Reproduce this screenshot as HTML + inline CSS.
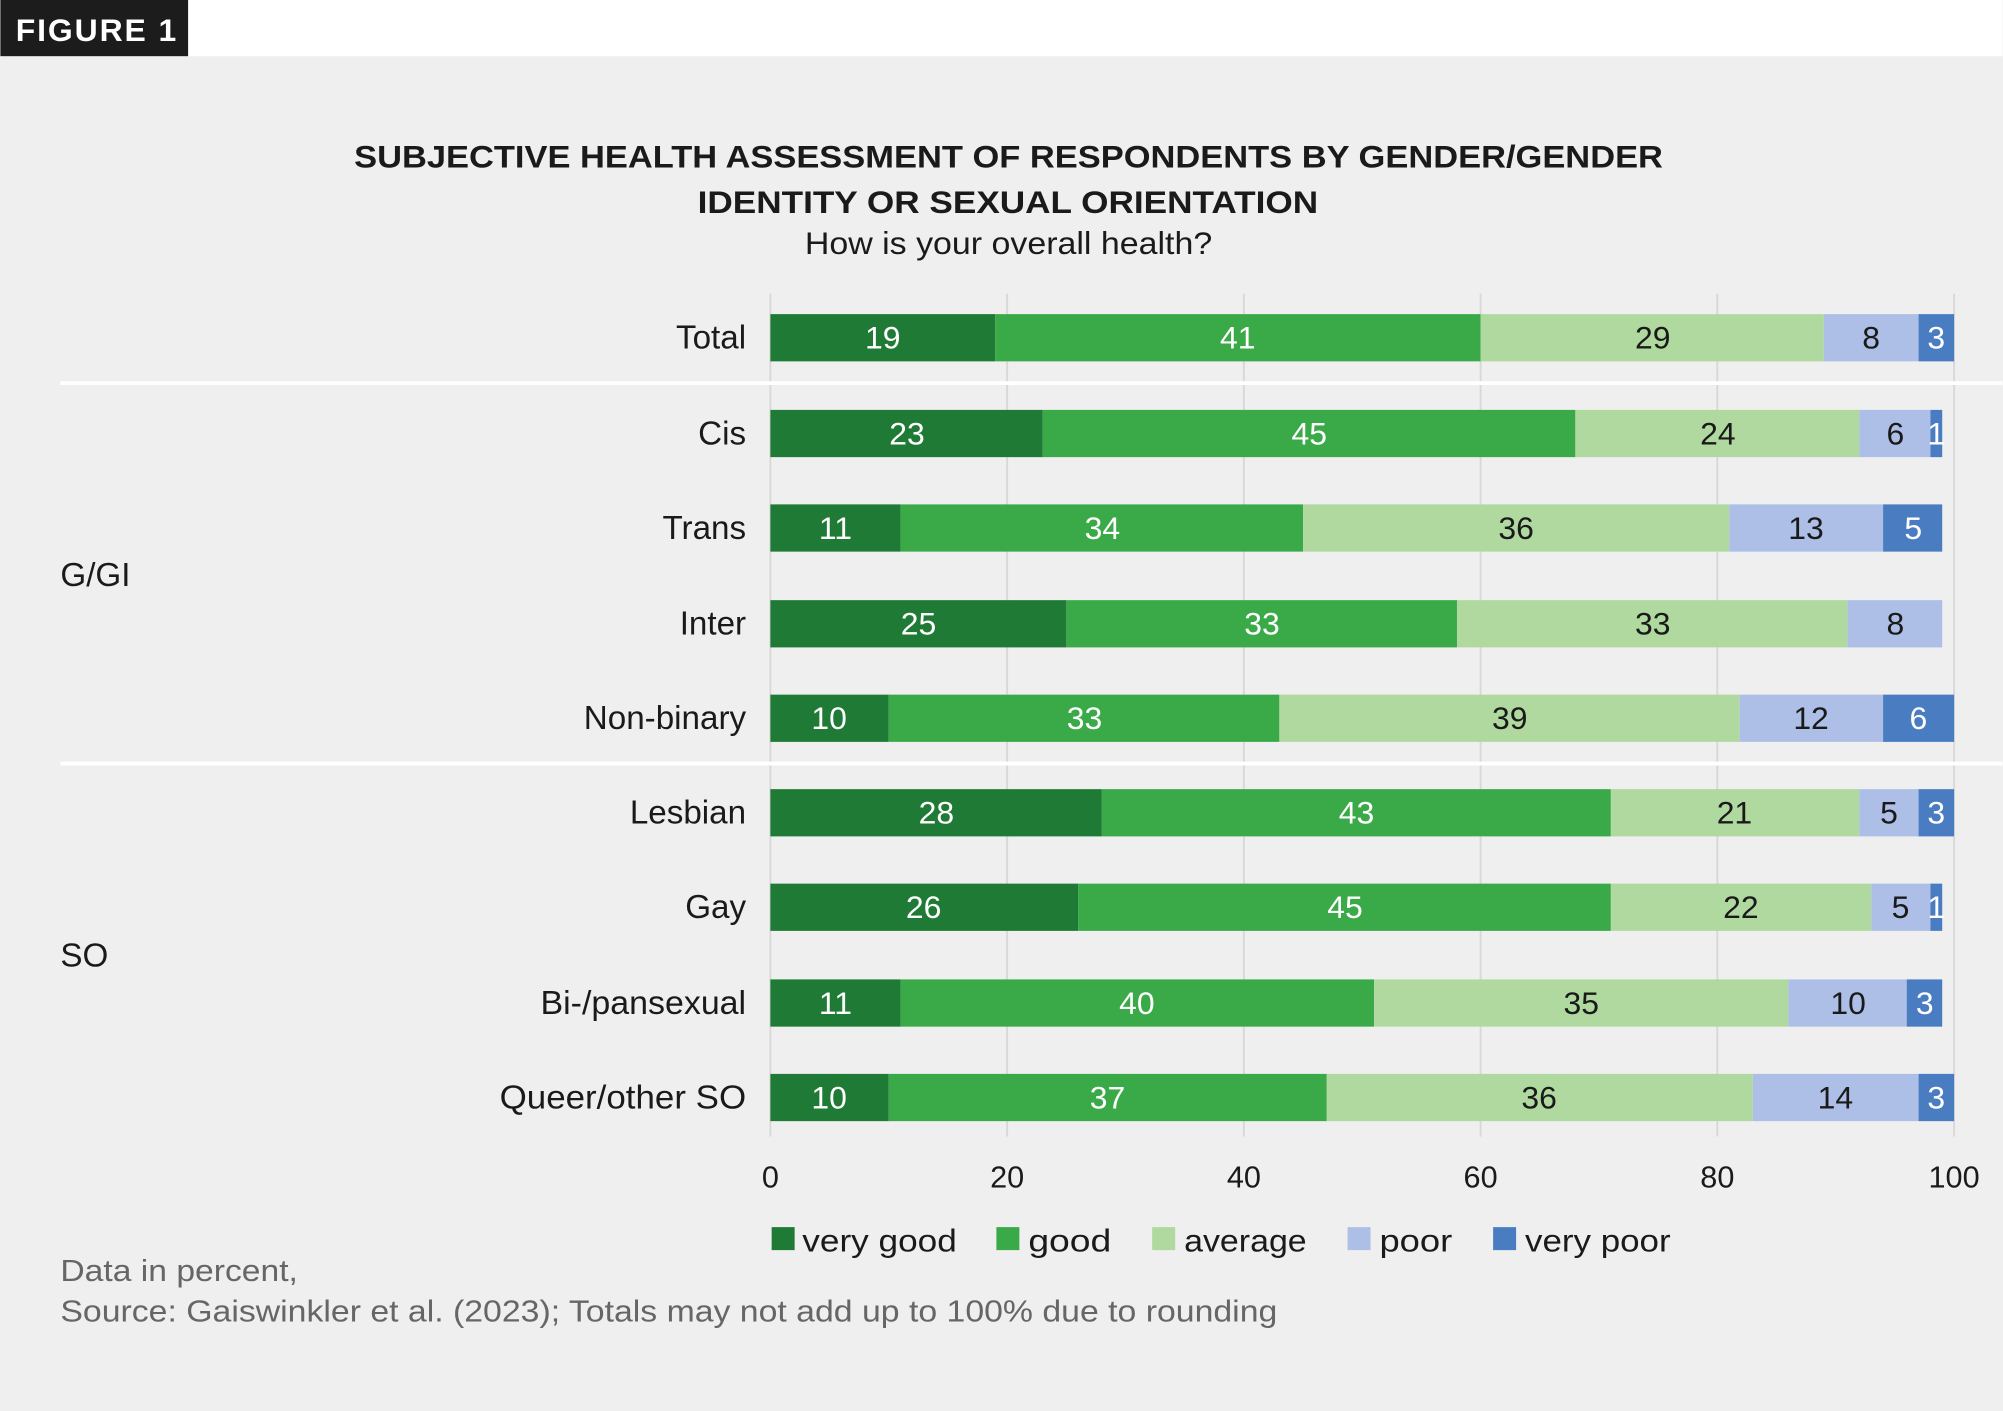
<!DOCTYPE html>
<html><head><meta charset="utf-8"><style>
html,body{margin:0;padding:0;background:#efefef;}
svg{display:block;}
text{font-family:"Liberation Sans","DejaVu Sans",sans-serif;}
.v{font-size:25px;text-anchor:middle;}
.w{fill:#fff;}.d{fill:#1a1a1a;}
.c{font-size:26px;text-anchor:end;fill:#1a1a1a;}
.t{font-size:24px;text-anchor:middle;fill:#1a1a1a;}
.vg{fill:#1f7a35}.g{fill:#3aaa48}.a{fill:#b0d9a0}.p{fill:#adbfe6}.vp{fill:#4a7cc2}
</style></head><body>
<svg width="2003" height="1411" viewBox="0 0 1568 1105" xmlns="http://www.w3.org/2000/svg">
<rect width="1568" height="1105" fill="#efefef"/>
<rect width="1568" height="44" fill="#fff"/>
<rect width="147" height="44" fill="#1c1c1c"/>
<text x="12" y="32" font-size="25" font-weight="bold" fill="#fff" letter-spacing="1.5">FIGURE 1</text>
<text x="277" y="131" font-size="25" font-weight="bold" fill="#1a1a1a" textLength="1025" lengthAdjust="spacingAndGlyphs">SUBJECTIVE HEALTH ASSESSMENT OF RESPONDENTS BY GENDER/GENDER</text>
<text x="546" y="167" font-size="25" font-weight="bold" fill="#1a1a1a" textLength="486" lengthAdjust="spacingAndGlyphs">IDENTITY OR SEXUAL ORIENTATION</text>
<text x="630" y="199" font-size="25" fill="#1a1a1a" textLength="319" lengthAdjust="spacingAndGlyphs">How is your overall health?</text>
<g stroke="#d8d8d8" stroke-width="1.5">
<line x1="603" y1="230" x2="603" y2="890"/><line x1="788.4" y1="230" x2="788.4" y2="890"/><line x1="973.8" y1="230" x2="973.8" y2="890"/><line x1="1159.2" y1="230" x2="1159.2" y2="890"/><line x1="1344.6" y1="230" x2="1344.6" y2="890"/><line x1="1530" y1="230" x2="1530" y2="890"/>
</g>
<g stroke="#fff" stroke-width="3"><line x1="47" y1="300" x2="1568" y2="300"/><line x1="47" y1="598" x2="1568" y2="598"/></g>
<rect class="vg" x="603" y="246" width="176.1" height="37"/><rect class="g" x="779.1" y="246" width="380.1" height="37"/><rect class="a" x="1159.2" y="246" width="268.8" height="37"/><rect class="p" x="1428" y="246" width="74.2" height="37"/><rect class="vp" x="1502.2" y="246" width="27.8" height="37"/>
<text class="v w" x="691" y="273">19</text><text class="v w" x="969" y="273">41</text><text class="v d" x="1294" y="273">29</text><text class="v d" x="1465" y="273">8</text><text class="v w" x="1516" y="273">3</text>
<rect class="vg" x="603" y="321" width="213.2" height="37"/><rect class="g" x="816.2" y="321" width="417.2" height="37"/><rect class="a" x="1233.4" y="321" width="222.4" height="37"/><rect class="p" x="1455.8" y="321" width="55.7" height="37"/><rect class="vp" x="1511.5" y="321" width="9.2" height="37"/>
<text class="v w" x="710" y="348">23</text><text class="v w" x="1025" y="348">45</text><text class="v d" x="1345" y="348">24</text><text class="v d" x="1484" y="348">6</text><text class="v w" x="1516" y="348">1</text>
<rect class="vg" x="603" y="395" width="102" height="37"/><rect class="g" x="705" y="395" width="315.2" height="37"/><rect class="a" x="1020.2" y="395" width="333.7" height="37"/><rect class="p" x="1353.9" y="395" width="120.5" height="37"/><rect class="vp" x="1474.4" y="395" width="46.3" height="37"/>
<text class="v w" x="654" y="422">11</text><text class="v w" x="863" y="422">34</text><text class="v d" x="1187" y="422">36</text><text class="v d" x="1414" y="422">13</text><text class="v w" x="1498" y="422">5</text>
<rect class="vg" x="603" y="470" width="231.8" height="37"/><rect class="g" x="834.8" y="470" width="305.9" height="37"/><rect class="a" x="1140.7" y="470" width="305.9" height="37"/><rect class="p" x="1446.6" y="470" width="74.1" height="37"/>
<text class="v w" x="719" y="497">25</text><text class="v w" x="988" y="497">33</text><text class="v d" x="1294" y="497">33</text><text class="v d" x="1484" y="497">8</text>
<rect class="vg" x="603" y="544" width="92.7" height="37"/><rect class="g" x="695.7" y="544" width="305.9" height="37"/><rect class="a" x="1001.6" y="544" width="360.5" height="37"/><rect class="p" x="1362.1" y="544" width="112.3" height="37"/><rect class="vp" x="1474.4" y="544" width="55.6" height="37"/>
<text class="v w" x="649" y="571">10</text><text class="v w" x="849" y="571">33</text><text class="v d" x="1182" y="571">39</text><text class="v d" x="1418" y="571">12</text><text class="v w" x="1502" y="571">6</text>
<rect class="vg" x="603" y="618" width="259.6" height="37"/><rect class="g" x="862.6" y="618" width="398.6" height="37"/><rect class="a" x="1261.2" y="618" width="194.6" height="37"/><rect class="p" x="1455.8" y="618" width="46.4" height="37"/><rect class="vp" x="1502.2" y="618" width="27.8" height="37"/>
<text class="v w" x="733" y="645">28</text><text class="v w" x="1062" y="645">43</text><text class="v d" x="1358" y="645">21</text><text class="v d" x="1479" y="645">5</text><text class="v w" x="1516" y="645">3</text>
<rect class="vg" x="603" y="692" width="241" height="37"/><rect class="g" x="844" y="692" width="417.2" height="37"/><rect class="a" x="1261.2" y="692" width="203.9" height="37"/><rect class="p" x="1465.1" y="692" width="46.4" height="37"/><rect class="vp" x="1511.5" y="692" width="9.2" height="37"/>
<text class="v w" x="723" y="719">26</text><text class="v w" x="1053" y="719">45</text><text class="v d" x="1363" y="719">22</text><text class="v d" x="1488" y="719">5</text><text class="v w" x="1516" y="719">1</text>
<rect class="vg" x="603" y="767" width="102" height="37"/><rect class="g" x="705" y="767" width="370.8" height="37"/><rect class="a" x="1075.8" y="767" width="324.4" height="37"/><rect class="p" x="1400.2" y="767" width="92.7" height="37"/><rect class="vp" x="1492.9" y="767" width="27.8" height="37"/>
<text class="v w" x="654" y="794">11</text><text class="v w" x="890" y="794">40</text><text class="v d" x="1238" y="794">35</text><text class="v d" x="1447" y="794">10</text><text class="v w" x="1507" y="794">3</text>
<rect class="vg" x="603" y="841" width="92.7" height="37"/><rect class="g" x="695.7" y="841" width="343" height="37"/><rect class="a" x="1038.7" y="841" width="333.7" height="37"/><rect class="p" x="1372.4" y="841" width="129.8" height="37"/><rect class="vp" x="1502.2" y="841" width="27.8" height="37"/>
<text class="v w" x="649" y="868">10</text><text class="v w" x="867" y="868">37</text><text class="v d" x="1205" y="868">36</text><text class="v d" x="1437" y="868">14</text><text class="v w" x="1516" y="868">3</text>
<text class="c" x="584" y="273">Total</text>
<text class="c" x="584" y="348">Cis</text>
<text class="c" x="584" y="422">Trans</text>
<text class="c" x="584" y="497">Inter</text>
<text class="c" x="584" y="571">Non-binary</text>
<text class="c" x="584" y="645">Lesbian</text>
<text class="c" x="584" y="719">Gay</text>
<text class="c" x="584" y="794" textLength="161" lengthAdjust="spacingAndGlyphs">Bi-/pansexual</text>
<text class="c" x="584" y="868" textLength="193" lengthAdjust="spacingAndGlyphs">Queer/other SO</text>
<text x="47" y="459" font-size="26" fill="#1a1a1a">G/GI</text>
<text x="47" y="757" font-size="26" fill="#1a1a1a">SO</text>
<text class="t" x="603" y="930">0</text><text class="t" x="788.4" y="930">20</text><text class="t" x="973.8" y="930">40</text><text class="t" x="1159.2" y="930">60</text><text class="t" x="1344.6" y="930">80</text><text class="t" x="1530" y="930">100</text>
<g font-size="25" fill="#1a1a1a">
<rect class="vg" x="604" y="961" width="18" height="18"/><text x="628" y="980" textLength="121" lengthAdjust="spacingAndGlyphs">very good</text>
<rect class="g" x="780" y="961" width="18" height="18"/><text x="805" y="980" textLength="65" lengthAdjust="spacingAndGlyphs">good</text>
<rect class="a" x="902" y="961" width="18" height="18"/><text x="927" y="980" textLength="96" lengthAdjust="spacingAndGlyphs">average</text>
<rect class="p" x="1055" y="961" width="18" height="18"/><text x="1080" y="980" textLength="57" lengthAdjust="spacingAndGlyphs">poor</text>
<rect class="vp" x="1169" y="961" width="18" height="18"/><text x="1194" y="980" textLength="114" lengthAdjust="spacingAndGlyphs">very poor</text>
</g>
<text x="47" y="1003" font-size="24" fill="#666" textLength="186" lengthAdjust="spacingAndGlyphs">Data in percent,</text>
<text x="47" y="1035" font-size="24" fill="#666" textLength="953" lengthAdjust="spacingAndGlyphs">Source: Gaiswinkler et al. (2023); Totals may not add up to 100% due to rounding</text>
</svg>
</body></html>
